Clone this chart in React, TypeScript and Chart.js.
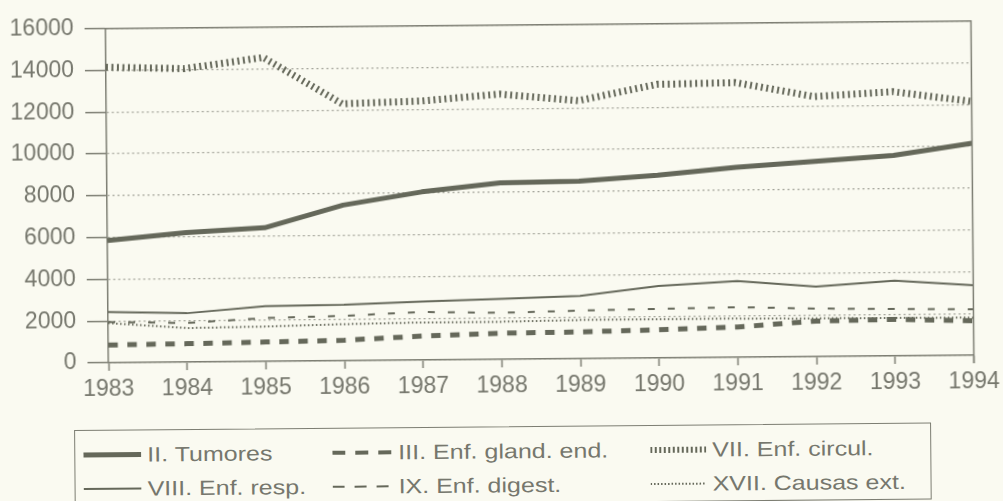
import React, { useEffect, useRef } from "react";
import { Chart, registerables } from "chart.js";

Chart.register(...registerables);

// ---- data ----
const years = ["1983", "1984", "1985", "1986", "1987", "1988", "1989", "1990", "1991", "1992", "1993", "1994"];
const tumores = [5850, 6200, 6400, 7450, 8050, 8450, 8500, 8750, 9100, 9350, 9600, 10150];
const glandEnd = [850, 880, 930, 980, 1150, 1250, 1280, 1350, 1450, 1700, 1750, 1650];
const circul = [14150, 14050, 14550, 12300, 12400, 12700, 12350, 13100, 13150, 12450, 12650, 12150];
const resp = [2430, 2340, 2650, 2680, 2800, 2900, 3000, 3450, 3650, 3350, 3600, 3350];
const digest = [1950, 1870, 2080, 2150, 2300, 2230, 2300, 2350, 2400, 2300, 2250, 2200];
const causasExt = [1900, 1630, 1670, 1750, 1800, 1800, 1850, 1850, 1850, 1830, 1820, 1800];
const yMin = 0;
const yMax = 16000;
const yStep = 2000;

const seriesLabels = [
  "II. Tumores",
  "III. Enf. gland. end.",
  "VII. Enf. circul.",
  "VIII. Enf. resp.",
  "IX. Enf. digest.",
  "XVII. Causas ext.",
];

// ---- styles ----
const BG = "#fafaf1";
const INK = "#65685a";
const AXIS = "#7d7e73";
const GRID = "#a3a49a";
const TEXT = "#76776d";
const FONT = "'Liberation Sans', Arial, sans-serif";

type Style = { width: number; dash: number[] };
const styles: Style[] = [
  { width: 5, dash: [] },
  { width: 5, dash: [9.5, 9.5] },
  { width: 7, dash: [2, 3.5] },
  { width: 2, dash: [] },
  { width: 2, dash: [7, 13] },
  { width: 2, dash: [1.5, 2.5] },
];
const legendStyles: Style[] = [
  { width: 5, dash: [] },
  { width: 4, dash: [13, 10] },
  { width: 6, dash: [2, 2.5] },
  { width: 2, dash: [] },
  { width: 2, dash: [12, 10] },
  { width: 2, dash: [1.5, 2] },
];
const legendSampleX = [81, 330, 648];
const legendTextX = [145, 396, 710];
const legendRowY = [451, 485];

const seriesData = [tumores, glandEnd, circul, resp, digest, causasExt];

const framePlugin = {
  id: "frame",
  afterDraw(chart: any) {
    const { ctx, chartArea } = chart;
    ctx.save();
    ctx.strokeStyle = AXIS;
    ctx.lineWidth = 1.5;
    ctx.setLineDash([]);
    ctx.beginPath();
    ctx.moveTo(chartArea.left, chartArea.top);
    ctx.lineTo(chartArea.right, chartArea.top);
    ctx.lineTo(chartArea.right, chartArea.bottom + 8);
    ctx.stroke();
    ctx.restore();
  },
};

function LegendItem({ i }: { i: number }) {
  const s = legendStyles[i];
  const col = i % 3;
  const row = i < 3 ? 0 : 1;
  const cy = legendRowY[row];
  const sx = legendSampleX[col];
  const tx = legendTextX[col];
  const sw = tx - sx - 6;
  return (
    <>
      <svg
        width={sw}
        height={12}
        style={{ position: "absolute", left: sx, top: cy - 6 }}
      >
        <line
          x1={0}
          y1={6}
          x2={sw}
          y2={6}
          stroke={INK}
          strokeWidth={s.width}
          strokeDasharray={s.dash.length ? s.dash.join(",") : undefined}
        />
      </svg>
      <span
        style={{
          position: "absolute",
          left: tx,
          top: cy - 12,
          height: 24,
          lineHeight: "24px",
          fontSize: 20.5,
          whiteSpace: "nowrap",
          transform: "scaleX(1.22)",
          transformOrigin: "left center",
          color: TEXT,
        }}
      >
        {seriesLabels[i]}
      </span>
    </>
  );
}

export default function App() {
  const ref = useRef<HTMLCanvasElement>(null);

  useEffect(() => {
    const chart = new Chart(ref.current!, {
      type: "line",
      data: {
        labels: years,
        datasets: seriesData.map((d, i) => ({
          label: seriesLabels[i],
          data: d,
          borderColor: INK,
          backgroundColor: INK,
          borderWidth: styles[i].width,
          borderDash: styles[i].dash,
          borderCapStyle: "butt" as const,
          borderJoinStyle: "round" as const,
          pointRadius: 0,
          tension: 0,
          fill: false,
        })),
      },
      options: {
        animation: false,
        responsive: false,
        maintainAspectRatio: false,
        devicePixelRatio: 1,
        layout: { padding: { top: 21, right: 27, left: 0, bottom: 0 } },
        plugins: { legend: { display: false }, tooltip: { enabled: false } },
        scales: {
          x: {
            type: "category",
            offset: false,
            afterFit: (s: any) => {
              s.height = 61;
            },
            grid: {
              drawOnChartArea: false,
              drawTicks: true,
              tickLength: 8,
              tickColor: AXIS,
              tickWidth: 1.5,
            },
            border: { display: true, color: AXIS, width: 1.5 },
            ticks: {
              color: TEXT,
              font: { family: FONT, size: 23 },
              padding: 5,
              maxRotation: 0,
              autoSkip: false,
            },
          },
          y: {
            min: yMin,
            max: yMax,
            afterFit: (s: any) => {
              s.width = 107;
            },
            grid: {
              color: GRID,
              lineWidth: 1.3,
              tickLength: 21,
              tickColor: AXIS,
              tickWidth: 1.5,
              tickBorderDash: [],
            },
            border: { display: true, color: AXIS, width: 1.5, dash: [2, 3] },
            ticks: {
              stepSize: yStep,
              color: TEXT,
              font: { family: FONT, size: 23 },
              padding: 11,
              callback: (v: any) => String(v),
            },
          },
        },
      },
      plugins: [framePlugin],
    });
    return () => chart.destroy();
  }, []);

  return (
    <div
      style={{
        position: "fixed",
        left: 0,
        top: 0,
        width: 1003,
        height: 501,
        background: BG,
        overflow: "hidden",
        fontFamily: FONT,
      }}
    >
      <div
        style={{
          position: "absolute",
          left: 0,
          top: 0,
          width: 1003,
          height: 501,
          transform: "rotate(-0.5deg)",
          transformOrigin: "541px 190px",
        }}
      >
        <canvas ref={ref} width={1003} height={420} style={{ display: "block", width: 1003, height: 420 }} />
        <div
          style={{
            position: "absolute",
            left: 72,
            top: 426,
            width: 857,
            height: 77,
            boxSizing: "border-box",
            border: `1.5px solid ${AXIS}`,
          }}
        />
        {[0, 1, 2, 3, 4, 5].map((i) => (
          <LegendItem key={i} i={i} />
        ))}
      </div>
    </div>
  );
}
